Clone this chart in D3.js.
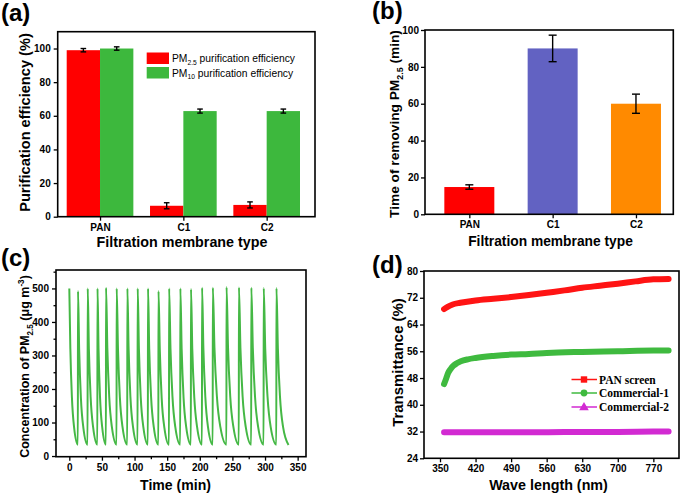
<!DOCTYPE html>
<html><head><meta charset="utf-8">
<script src="https://cdn.jsdelivr.net/npm/d3@7/dist/d3.min.js"></script>
<style>
body{margin:0;background:#fff}
svg{display:block}
</style>
</head><body>
<svg id="chart" width="685" height="496" font-family="Liberation Sans, Arial, sans-serif"></svg>
<script>
// ---------------- DATA ----------------
// Panel (a)
const membraneTypesA = ["PAN", "C1", "C2"];
const pm25Efficiency = [99, 6.5, 7];
const pm25EffError = [1, 1.8, 1.8];
const pm10Efficiency = [100, 62.8, 62.8];
const pm10EffError = [1, 1.2, 1.2];
const efficiencyTicks = [0, 20, 40, 60, 80, 100];

// Panel (b)
const membraneTypesB = ["PAN", "C1", "C2"];
const removalTime = [14.8, 90, 60];
const removalTimeError = [1.2, 7.2, 5.2];
const removalColors = ["#ff0000", "#6262c2", "#ff8a00"];
const removalTicks = [0, 20, 40, 60, 80, 100];

// Panel (c) : cyclic PM2.5 concentration, [time (min), concentration]
const concentrationSeries = [
  [0,500],[1.6,320],[4.0,175],[7.3,86],[13.1,34],
  [13.3,492],[15.1,318],[17.8,172],[21.5,85],[28.0,34],
  [28.2,500],[30.0,320],[32.7,175],[36.5,86],[43.0,34],
  [43.2,500],[44.8,320],[47.1,175],[50.4,86],[56.1,34],
  [56.3,502],[58.3,322],[61.2,176],[65.3,86],[72.4,34],
  [72.6,500],[74.6,320],[77.5,175],[81.6,86],[88.8,34],
  [89.0,500],[90.9,320],[93.7,175],[97.7,86],[104.6,34],
  [104.8,500],[106.7,320],[109.5,175],[113.5,86],[120.4,34],
  [120.6,500],[122.5,320],[125.4,175],[129.5,86],[136.5,34],
  [136.7,492],[138.7,318],[141.6,172],[145.7,85],[152.8,34],
  [153.0,500],[155.1,320],[158.2,175],[162.5,86],[170.0,34],
  [170.2,500],[172.2,320],[175.1,175],[179.2,86],[186.3,34],
  [186.5,498],[188.5,319],[191.6,174],[195.9,86],[203.3,34],
  [203.5,502],[205.5,322],[208.5,176],[212.6,86],[219.8,34],
  [220.0,502],[222.5,322],[226.3,176],[231.6,86],[240.8,34],
  [241.0,504],[243.3,323],[246.7,177],[251.5,87],[259.8,34],
  [260.0,503],[262.3,322],[265.7,176],[270.5,86],[278.8,34],
  [279.0,502],[281.3,322],[284.7,176],[289.5,86],[297.8,34],
  [298.0,501],[300.3,321],[303.9,175],[308.7,86],[317.3,34],
  [317.5,501],[319.7,321],[323.0,175],[327.7,86],[336.0,33]
];
const timeTicks = [0, 50, 100, 150, 200, 250, 300, 350];
const timeMinorTicks = [25, 75, 125, 175, 225, 275, 325];
const concTicks = [0, 100, 200, 300, 400, 500];
const concMinorTicks = [50, 150, 250, 350, 450, 550];

// Panel (d) : transmittance spectra
const panWavelength = [358, 365, 375, 390, 420, 455, 490, 525, 560, 595, 630, 665, 700, 735, 770, 800];
const panTransmittance = [68.6, 69.3, 70.0, 70.5, 71.2, 71.7, 72.2, 72.8, 73.5, 74.2, 75.0, 75.6, 76.2, 76.9, 77.5, 77.6];
const com1Wavelength = [358, 362, 366, 371, 376, 383, 391, 405, 420, 455, 490, 525, 560, 630, 700, 770, 800];
const com1Transmittance = [46.2, 47.8, 49.5, 50.7, 51.6, 52.4, 53.0, 53.6, 54.0, 54.6, 55.0, 55.2, 55.5, 55.8, 56.0, 56.2, 56.2];
const com2Wavelength = [358, 420, 490, 560, 630, 700, 770, 800];
const com2Transmittance = [31.8, 31.8, 31.8, 31.8, 31.9, 31.9, 32.0, 32.0];
const waveTicks = [350, 420, 490, 560, 630, 700, 770];
const transTicks = [24, 32, 40, 48, 56, 64, 72, 80];
const spectraNames = ["PAN screen", "Commercial-1", "Commercial-2"];
const spectraColors = ["#ff1414", "#3fba3f", "#d22ad2"];

// ---------------- HELPERS ----------------
const svg = d3.select("#chart");
const SANS = "Liberation Sans, Arial, sans-serif";
const TICK_FS = 10;

function rich(textSel, parts, fs) {
  let shift = 0;
  parts.forEach(([str, kind]) => {
    const target = kind === "sub" ? 0.28 * fs : kind === "sup" ? -0.42 * fs : 0;
    const t = textSel.append("tspan").text(str).attr("dy", (target - shift).toFixed(2));
    if (kind) t.attr("font-size", (fs * 0.65).toFixed(2));
    shift = target;
  });
}

// builds a bold title whose length along its baseline matches the reference
function fittedTitle(parts, cx, cy, rotate, targetLen, fs0) {
  const make = fs => {
    const t = svg.append("text").attr("text-anchor", "middle").attr("font-size", fs)
      .attr("font-weight", "bold")
      .attr("transform", rotate ? `translate(${cx},${cy}) rotate(-90)` : `translate(${cx},${cy})`);
    rich(t, parts, fs);
    return t;
  };
  const probe = make(fs0);
  const w = probe.node().getBBox().width;
  probe.remove();
  return make(fs0 * targetLen / w);
}

function styleAxis(g) {
  g.select(".domain").remove();
  g.selectAll(".tick line").attr("stroke", "#000").attr("stroke-width", 1.3);
  g.selectAll(".tick text").attr("font-size", TICK_FS).attr("font-weight", "bold")
    .attr("font-family", SANS).attr("fill", "#000");
}

function frame(x, y) {
  const [x0, x1] = x.range(), [y0, y1] = y.range();
  svg.append("rect").attr("x", Math.min(x0, x1)).attr("y", Math.min(y0, y1))
    .attr("width", Math.abs(x1 - x0)).attr("height", Math.abs(y1 - y0))
    .attr("fill", "none").attr("stroke", "#000").attr("stroke-width", 1.6);
}

function panelLabel(txt, x, y) {
  svg.append("text").attr("x", x).attr("y", y).attr("font-size", 24)
    .attr("font-weight", "bold").text(txt);
}

function errorBar(x, yTop, yBot, half) {
  svg.append("line").attr("x1", x).attr("x2", x).attr("y1", yTop).attr("y2", yBot)
    .attr("stroke", "#000").attr("stroke-width", 1.4);
  [yTop, yBot].forEach(yy => svg.append("line").attr("x1", x - half).attr("x2", x + half)
    .attr("y1", yy).attr("y2", yy).attr("stroke", "#000").attr("stroke-width", 1.4));
}

// ---------------- PANEL (a) ----------------
{
  const x = d3.scaleLinear().domain([-0.508, 2.58]).range([57.7, 315]);
  const y = d3.scaleLinear().domain([0, 110]).range([216.7, 31.7]);
  const bw = 0.4;
  const g = svg.append("g");
  g.selectAll(".r").data(pm25Efficiency).join("rect")
    .attr("x", (d, i) => x(i - bw)).attr("width", (d, i) => x(i) - x(i - bw))
    .attr("y", d => y(d)).attr("height", d => y(0) - y(d)).attr("fill", "#ff0000");
  g.selectAll(".gbar").data(pm10Efficiency).join("rect")
    .attr("x", (d, i) => x(i)).attr("width", (d, i) => x(i + bw) - x(i))
    .attr("y", d => y(d)).attr("height", d => y(0) - y(d)).attr("fill", "#3db83d");
  pm25Efficiency.forEach((d, i) => errorBar(x(i - bw / 2), y(d + pm25EffError[i]), y(d - pm25EffError[i]), 2.8));
  pm10Efficiency.forEach((d, i) => errorBar(x(i + bw / 2), y(d + pm10EffError[i]), y(d - pm10EffError[i]), 2.8));

  svg.append("g").attr("transform", `translate(0,${y.range()[0]})`)
    .call(d3.axisBottom(x).tickValues([0, 1, 2]).tickFormat(i => membraneTypesA[i]).tickSize(4).tickPadding(3))
    .call(styleAxis);
  svg.append("g").attr("transform", `translate(${x.range()[0]},0)`)
    .call(d3.axisLeft(y).tickValues(efficiencyTicks).tickSize(4).tickPadding(3))
    .call(styleAxis);
  frame(x, y);

  // legend
  const lg = [["PM", null], ["2.5", "sub"], [" purification efficiency", null]];
  const lg2 = [["PM", null], ["10", "sub"], [" purification efficiency", null]];
  svg.append("rect").attr("x", 146.7).attr("y", 52.5).attr("width", 22.3).attr("height", 11.5).attr("fill", "#ff0000");
  svg.append("rect").attr("x", 146.7).attr("y", 67).attr("width", 22.3).attr("height", 11.5).attr("fill", "#3db83d");
  rich(svg.append("text").attr("x", 172).attr("y", 62).attr("font-size", 10.3), lg, 10.3);
  rich(svg.append("text").attr("x", 172).attr("y", 76.5).attr("font-size", 10.3), lg2, 10.3);

  fittedTitle([["Filtration membrane type", null]], 182, 247, false, 171, 14.5);
  fittedTitle([["Purification efficiency (%)", null]], 30, 122.5, true, 179, 14.5);
  panelLabel("(a)", 1, 21);
}

// ---------------- PANEL (b) ----------------
{
  const x = d3.scaleLinear().domain([-0.532, 2.448]).range([425, 673.3]);
  const y = d3.scaleLinear().domain([0, 100]).range([214.3, 30]);
  const bw = 0.3;
  svg.append("g").selectAll("rect").data(removalTime).join("rect")
    .attr("x", (d, i) => x(i - bw)).attr("width", (d, i) => x(i + bw) - x(i - bw))
    .attr("y", d => y(d)).attr("height", d => y(0) - y(d)).attr("fill", (d, i) => removalColors[i]);
  removalTime.forEach((d, i) => errorBar(x(i), y(d + removalTimeError[i]), y(d - removalTimeError[i]), 4));

  svg.append("g").attr("transform", `translate(0,${y.range()[0]})`)
    .call(d3.axisBottom(x).tickValues([0, 1, 2]).tickFormat(i => membraneTypesB[i]).tickSize(4).tickPadding(3))
    .call(styleAxis);
  svg.append("g").attr("transform", `translate(${x.range()[0]},0)`)
    .call(d3.axisLeft(y).tickValues(removalTicks).tickSize(4).tickPadding(2))
    .call(styleAxis);
  frame(x, y);

  fittedTitle([["Filtration membrane type", null]], 550.5, 246, false, 165, 14);
  fittedTitle([["Time of removing PM", null], ["2.5", "sub"], [" (min)", null]], 399, 124, true, 188, 14);
  panelLabel("(b)", 372, 19);
}

// ---------------- PANEL (c) ----------------
{
  const x = d3.scaleLinear().domain([-20.4, 362.8]).range([56, 306]);
  const y = d3.scaleLinear().domain([-2, 555]).range([456.7, 270]);
  const line = d3.line().x(d => x(d[0])).y(d => y(d[1])).curve(d3.curveMonotoneX);
  svg.append("path").datum(concentrationSeries).attr("d", line)
    .attr("fill", "none").attr("stroke", "#45b845").attr("stroke-width", 2).attr("stroke-linejoin", "round");

  svg.append("g").attr("transform", `translate(0,${y.range()[0]})`)
    .call(d3.axisBottom(x).tickValues(timeTicks).tickSize(4).tickPadding(3)).call(styleAxis);
  svg.append("g").attr("transform", `translate(0,${y.range()[0]})`)
    .call(d3.axisBottom(x).tickValues(timeMinorTicks).tickSize(2.5).tickFormat("")).call(styleAxis);
  svg.append("g").attr("transform", `translate(${x.range()[0]},0)`)
    .call(d3.axisLeft(y).tickValues(concTicks).tickSize(4).tickPadding(3)).call(styleAxis);
  svg.append("g").attr("transform", `translate(${x.range()[0]},0)`)
    .call(d3.axisLeft(y).tickValues(concMinorTicks).tickSize(2.5).tickFormat("")).call(styleAxis);
  frame(x, y);

  fittedTitle([["Time (min)", null]], 175.5, 490, false, 71, 14);
  fittedTitle([["Concentration of PM", null], ["2.5", "sub"], [" (μg m", null], ["-3", "sup"], [")", null]], 29, 366.5, true, 183, 12.5);
  panelLabel("(c)", 1, 266);
}

// ---------------- PANEL (d) ----------------
{
  const x = d3.scaleLinear().domain([318.5, 820.5]).range([424, 679]);
  const y = d3.scaleLinear().domain([24, 80]).range([458.3, 271]);
  const line = d3.line().x(d => x(d[0])).y(d => y(d[1])).curve(d3.curveMonotoneX);
  const series = [
    d3.zip(panWavelength, panTransmittance),
    d3.zip(com1Wavelength, com1Transmittance),
    d3.zip(com2Wavelength, com2Transmittance)
  ];
  series.forEach((s, i) => {
    svg.append("path").datum(s).attr("d", line).attr("fill", "none")
      .attr("stroke", spectraColors[i]).attr("stroke-width", 6).attr("stroke-linecap", "round");
  });

  svg.append("g").attr("transform", `translate(0,${y.range()[0]})`)
    .call(d3.axisBottom(x).tickValues(waveTicks).tickSize(4).tickPadding(3)).call(styleAxis);
  svg.append("g").attr("transform", `translate(${x.range()[0]},0)`)
    .call(d3.axisLeft(y).tickValues(transTicks).tickSize(4).tickPadding(2)).call(styleAxis);
  frame(x, y);

  // legend
  const ly = [379.5, 393, 407];
  spectraNames.forEach((name, i) => {
    const c = spectraColors[i];
    svg.append("line").attr("x1", 571.5).attr("x2", 597).attr("y1", ly[i]).attr("y2", ly[i])
      .attr("stroke", c).attr("stroke-width", 1.5);
    const mx = 584;
    if (i === 0) svg.append("rect").attr("x", mx - 3.2).attr("y", ly[i] - 3.2).attr("width", 6.4).attr("height", 6.4).attr("fill", c);
    else if (i === 1) svg.append("circle").attr("cx", mx).attr("cy", ly[i]).attr("r", 3.4).attr("fill", c);
    else svg.append("path").attr("d", d3.symbol(d3.symbolTriangle, 40)()).attr("transform", `translate(${mx},${ly[i] + 0.5})`).attr("fill", c);
    svg.append("text").attr("x", 599).attr("y", ly[i] + 4).attr("font-size", 11.5).attr("font-weight", "bold")
      .attr("font-family", "Liberation Serif, Times New Roman, serif").text(name);
  });

  fittedTitle([["Wave length (nm)", null]], 548.5, 490, false, 119, 14.5);
  fittedTitle([["Transmittance (%)", null]], 403, 362.5, true, 129, 14.5);
  panelLabel("(d)", 372, 273);
}
</script>
</body></html>
